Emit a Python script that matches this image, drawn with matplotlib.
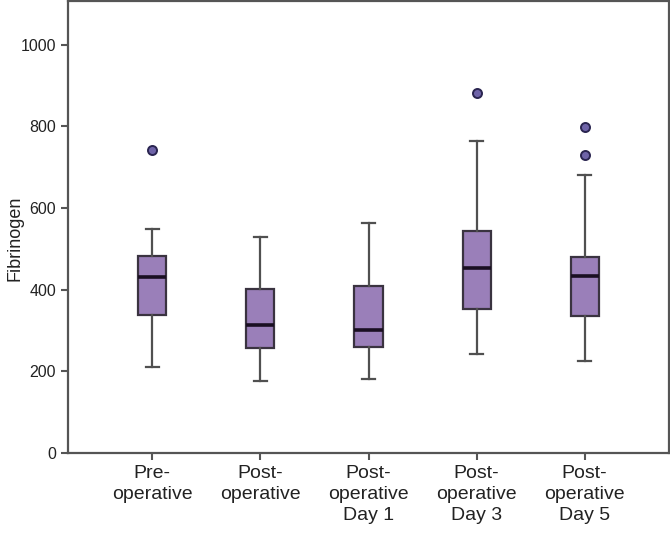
import matplotlib
matplotlib.use("Agg")
import matplotlib.pyplot as plt

plt.rcParams['font.family'] = ['Liberation Sans', 'DejaVu Sans']

categories = ["Pre-\noperative", "Post-\noperative", "Post-\noperative\nDay 1",
              "Post-\noperative\nDay 3", "Post-\noperative\nDay 5"]
whislo = [211, 176, 181, 243, 225]
q1 = [338, 256, 260, 352, 335]
med = [430, 313, 300, 454, 434]
q3 = [483, 401, 410, 544, 481]
whishi = [548, 529, 562, 764, 681]
fliers = [[741], [], [], [882], [797, 730]]

stats = []
for i in range(len(categories)):
    stats.append(dict(whislo=whislo[i], q1=q1[i], med=med[i], q3=q3[i],
                      whishi=whishi[i], fliers=fliers[i], label=categories[i]))

fig = plt.figure(figsize=(6.7, 5.34), dpi=100)
ax = fig.add_axes([0.1015, 0.1517, 0.897, 0.846])

edge = "#3a3340"
ax.bxp(stats, positions=range(1, 6), widths=0.26, capwidths=0.12,
       patch_artist=True,
       boxprops=dict(facecolor="#9a7fb9", edgecolor=edge, linewidth=1.6),
       medianprops=dict(color="#1a0f22", linewidth=2.6),
       whiskerprops=dict(color="#505050", linewidth=1.6),
       capprops=dict(color="#505050", linewidth=1.6),
       flierprops=dict(marker="o", markersize=6.5, markerfacecolor="#6e63a8",
                       markeredgecolor="#2a2550", markeredgewidth=1.4))

ax.set_xlim(0.22, 5.78)
ax.set_ylim(0, 1106)
ax.set_yticks([0, 200, 400, 600, 800, 1000])
ax.set_ylabel("Fibrinogen", fontsize=13, color="#222222")
ax.yaxis.set_label_coords(-0.074, 0.475)

ax.tick_params(axis='y', labelsize=11.5, colors="#555555", labelcolor="#222222",
               length=5, width=1.5)
ax.tick_params(axis='x', labelsize=14, colors="#555555", labelcolor="#222222",
               length=5, width=1.5, pad=4)
for lab in ax.get_xticklabels():
    lab.set_linespacing(1.3)

for sp in ax.spines.values():
    sp.set_color("#555555")
    sp.set_linewidth(1.6)

fig.savefig("out.png", dpi=100)
